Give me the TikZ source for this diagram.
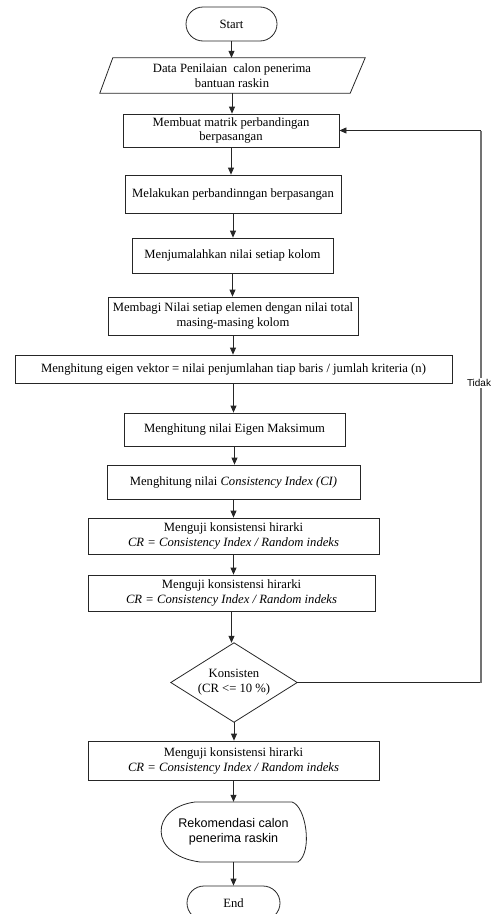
\documentclass[tikz,border=0pt]{standalone}
\usepackage{fontspec}
\setmainfont{Liberation Serif}
\newfontfamily\sansf{Liberation Sans}
\usetikzlibrary{shapes.misc,arrows.meta}
\begin{document}
\begin{tikzpicture}[x=1bp,y=-1bp,
  txt/.style={font=\fontsize{12.7}{15}\selectfont, align=center, inner sep=0pt},
  box/.style={txt, draw=black!85, line width=0.8bp},
  term/.style={txt, rounded rectangle, draw=black!85, line width=0.8bp},
  ghost/.style={txt, draw=none},
  edge/.style={draw=black!85, line width=0.8bp},
  arr/.style={edge, -{Triangle[length=7bp,width=6bp]}},
  loopline/.style={draw=black!55, line width=1.6bp}
]
\useasboundingbox (0,0) rectangle (501,914);

\node[term, minimum width=91bp, minimum height=34bp] (start) at (231.5,24) {Start};

\node[ghost, minimum width=251bp, minimum height=35bp] (data) at (232,75.5)
  {Data Penilaian\ \ calon penerima\\bantuan raskin};
\draw[edge] ([xshift=6.5bp]data.north west) -- ([xshift=7.5bp]data.north east)
  -- ([xshift=-7.5bp]data.south east) -- ([xshift=-6.5bp]data.south west) -- cycle;

\node[box, minimum width=216bp, minimum height=33bp] (b1) at (231,130.5)
  {Membuat matrik perbandingan\\berpasangan};
\node[box, minimum width=216bp, minimum height=38bp] (b2) at (233,194)
  {Melakukan perbandinngan berpasangan};
\node[box, minimum width=201bp, minimum height=35bp] (b3) at (232.5,255.5)
  {Menjumalahkan nilai setiap kolom};
\node[box, minimum width=250bp, minimum height=38bp] (b4) at (233,316)
  {Membagi Nilai setiap elemen dengan nilai total\\masing-masing kolom};
\node[box, minimum width=437bp, minimum height=28bp] (b5) at (233.5,369)
  {Menghitung eigen vektor = nilai penjumlahan tiap baris / jumlah kriteria (n)};
\node[box, minimum width=221bp, minimum height=33bp] (b6) at (234.5,429.5)
  {Menghitung nilai Eigen Maksimum};
\node[box, minimum width=253bp, minimum height=34bp] (b7) at (233.5,482)
  {Menghitung nilai \textit{Consistency Index (CI)}};
\node[box, minimum width=291bp, minimum height=36bp] (b8) at (233.5,536)
  {Menguji konsistensi hirarki\\\textit{CR = Consistency Index / Random indeks}};
\node[box, minimum width=287bp, minimum height=36bp] (b9) at (231.5,593)
  {Menguji konsistensi hirarki\\\textit{CR = Consistency Index / Random indeks}};

\node[ghost, minimum width=126bp, minimum height=79bp] (dia) at (234,682.5)
  {Konsisten\\(CR <= 10 \%)};
\draw[edge] (dia.north) -- (dia.east) -- (dia.south) -- (dia.west) -- cycle;

\node[box, minimum width=291bp, minimum height=39bp] (b10) at (233.5,760.5)
  {Menguji konsistensi hirarki\\\textit{CR = Consistency Index / Random indeks}};

\node[ghost, font=\sansf\fontsize{12.6}{15}\selectfont, minimum width=147bp, minimum height=60bp] (rek) at (233.5,832)
  {Rekomendasi calon\\penerima raskin};
\draw[edge] (195,802) -- (292,802) .. controls (306,806) and (313,852) .. (298,862)
  -- (200,862) .. controls (148,855) and (150,808) .. (195,802) -- cycle;

\node[term, minimum width=93bp, minimum height=34bp] (end) at (233.5,903) {End};

% connectors
\draw[arr] (start.south) -- (start.south |- data.north);
\draw[arr] (data.south) -- (data.south |- b1.north);
\draw[arr] (b1.south) -- (b1.south |- b2.north);
\draw[arr] (b2.south) -- (b2.south |- b3.north);
\draw[arr] (b3.south) -- (b3.south |- b4.north);
\draw[arr] (b4.south) -- (b4.south |- b5.north);
\draw[arr] (b5.south) -- (b5.south |- b6.north);
\draw[arr] (b6.south) -- (b6.south |- b7.north);
\draw[arr] (b7.south) -- (b7.south |- b8.north);
\draw[arr] (b8.south) -- (b8.south |- b9.north);
\draw[arr] (b9.south) -- (b9.south |- dia.north);
\draw[arr] (dia.south) -- (dia.south |- b10.north);
\draw[arr] (b10.south) -- (b10.south |- rek.north);
\draw[arr] (rek.south) -- (rek.south |- end.north);

% loop back (Tidak)
\coordinate (cb) at (481,682.5);
\coordinate (ct) at (481,130.5);
\draw[edge] (dia.east) -- (cb);
\draw[loopline] (cb) -- (ct);
\draw[arr] (ct) -- (b1.east);
\node[fill=white, inner sep=1.5bp, font=\sansf\fontsize{10}{12}\selectfont] (tidak) at (479,383) {Tidak};
\end{tikzpicture}
\end{document}
